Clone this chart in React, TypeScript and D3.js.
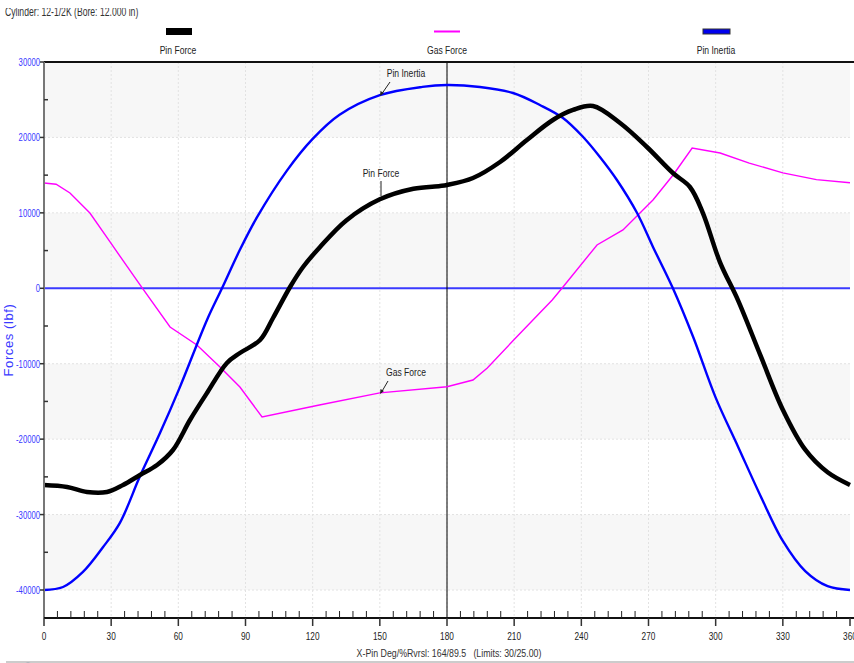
import { useMemo } from "react";
import { curveCatmullRom, curveLinear, line, range, scaleLinear } from "d3";

const WIDTH = 854;
const HEIGHT = 663;

const yTicks = [30000, 20000, 10000, 0, -10000, -20000, -30000, -40000];
const xTicks = [0, 30, 60, 90, 120, 150, 180, 210, 240, 270, 300, 330, 360];
const cursorDeg = 180;

const inertiaDeg = [0, 8.5, 17.4, 26.4, 33.9, 42.9, 51.8, 60.7, 72.8, 79.5, 87.5, 95.1, 108.5, 120, 132, 150, 169, 180, 194.7, 209.5, 221.5, 231.8, 240.8, 248.3, 255.9, 264.9, 272, 280.9, 290, 300, 310, 320, 330, 340, 350, 360];
const inertiaLbf = [-40000, -39600, -37600, -34300, -31100, -24900, -19200, -13100, -4200, 0, 5100, 9400, 15600, 19800, 23000, 25600, 26700, 26950, 26690, 25890, 24300, 22580, 20060, 17410, 14360, 9980, 5480, 0, -6500, -14500, -21000, -27500, -33500, -37500, -39500, -40000];

const pinDeg = [0, 10.3, 19.2, 28.1, 35.3, 42.9, 50.5, 57.6, 65.2, 72.8, 81.7, 87.5, 96.5, 102.3, 109.9, 115.7, 123.3, 135, 150, 165, 176.9, 180, 191.6, 203.7, 215.7, 227.3, 236.3, 245.2, 257.3, 269.3, 280.9, 288.5, 294.3, 301.9, 310, 320, 330, 340, 350, 360];
const pinLbf = [-26080, -26340, -27000, -27000, -26080, -24750, -23430, -21440, -17460, -13880, -9900, -8580, -6860, -3940, 170, 2820, 5480, 9000, 11800, 13200, 13560, 13700, 14620, 16740, 19660, 22310, 23640, 24170, 21910, 18730, 15280, 13430, 9980, 3480, -1600, -8900, -16100, -21400, -24400, -26080];

const gasDeg = [0, 5.4, 11.6, 20.5, 29.5, 42.9, 56.3, 68.3, 78.6, 87.5, 97.4, 123, 150, 180, 191.6, 198, 210, 220, 227, 231.8, 247, 258.6, 272, 281, 289.5, 302, 315, 330, 345, 360];
const gasLbf = [13960, 13800, 12630, 9980, 6140, 440, -5130, -7520, -10430, -13090, -17060, -15470, -13870, -13050, -12160, -10560, -6800, -3700, -1550, 170, 5740, 7730, 11710, 15020, 18600, 17940, 16600, 15300, 14400, 14000];

const legendItems = ["Pin Force", "Gas Force", "Pin Inertia"];

const FONT = "'Liberation Sans', Arial, sans-serif";

function Txt({ x, y, children, size = 11, sx = 0.75, anchor = "middle", fill = "#222" }: any) {
  return (
    <text transform={`translate(${x},${y}) scale(${sx},1)`} textAnchor={anchor} fontSize={size} fontFamily={FONT} fill={fill}>
      {children}
    </text>
  );
}

export default function App() {
  const x = useMemo(() => scaleLinear().domain([0, 360]).range([44, 850]), []);
  const y = useMemo(() => scaleLinear().domain([-40000, 30000]).range([590, 62]), []);
  const path = (degs: number[], vals: number[], curve: any) =>
    line<number>().curve(curve).x((_, i) => x(degs[i])).y((v) => y(v))(vals) ?? "";

  const left = x(0);
  const right = x(360);
  const top = 62;
  const axisY = 618;
  const bands = [30000, 10000, -10000, -30000];
  const minorX = range(0, 361, 6).filter((d) => d % 30 !== 0);
  const minorY = range(-35000, 30000, 10000);

  return (
    <svg width={WIDTH} height={HEIGHT} style={{ position: "absolute", left: 0, top: 0, background: "#fff" }}>
      <defs>
        <clipPath id="titleClip">
          <rect x={0} y={8} width={300} height={14} />
        </clipPath>
      </defs>

      {/* title, cut at the top like the screenshot */}
      <g clipPath="url(#titleClip)">
        <Txt x={5} y={16} size={12} sx={0.72} anchor="start" fill="#333">Cylinder: 12-1/2K (Bore: 12.000 in)</Txt>
      </g>

      {/* legend */}
      {legendItems.map((name, i) => {
        const cx = [178, 447, 716][i];
        return (
          <g key={name}>
            {i === 0 && <rect x={cx - 12} y={28} width={26} height={7} fill="#000" />}
            {i === 1 && <line x1={cx - 13} x2={cx + 13} y1={31.5} y2={31.5} stroke="#ff00ff" strokeWidth={2} />}
            {i === 2 && <rect x={cx - 13} y={29} width={27} height={5} fill="#0000ee" stroke="#333" strokeWidth={1} />}
            <Txt x={cx} y={54} size={11} sx={0.78}>{name}</Txt>
          </g>
        );
      })}

      {/* background bands */}
      {bands.map((b) => (
        <rect key={b} x={left} y={y(b)} width={right - left} height={y(b - 10000) - y(b)} fill="#f7f7f7" />
      ))}

      {/* grid */}
      {xTicks.slice(1, -1).map((d) => (
        <line key={d} x1={x(d)} x2={x(d)} y1={top} y2={axisY} stroke="#e2e2e2" strokeDasharray="2,2" />
      ))}
      {yTicks.slice(1).map((v) => (
        <line key={v} x1={left} x2={right} y1={y(v)} y2={y(v)} stroke="#e2e2e2" strokeDasharray="2,2" />
      ))}

      {/* zero line */}
      <line x1={left} x2={right} y1={y(0)} y2={y(0)} stroke="#3b3bff" strokeWidth={2} />

      {/* cursor */}
      <line x1={x(cursorDeg)} x2={x(cursorDeg)} y1={top} y2={axisY} stroke="#000" strokeWidth={1} />

      {/* series */}
      <path d={path(gasDeg, gasLbf, curveLinear)} fill="none" stroke="#ff00ff" strokeWidth={1.4} />
      <path d={path(inertiaDeg, inertiaLbf, curveCatmullRom.alpha(0.5))} fill="none" stroke="#0000ff" strokeWidth={2.4} />
      <path d={path(pinDeg, pinLbf, curveCatmullRom.alpha(0.5))} fill="none" stroke="#000" strokeWidth={4.5} strokeLinejoin="round" />

      {/* annotations */}
      <Txt x={406} y={77} size={11} sx={0.78}>Pin Inertia</Txt>
      <line x1={390} y1={82} x2={381} y2={95} stroke="#222" />
      <path d="M380,96 L380.5,91 L384,93 Z" fill="#222" />
      <Txt x={381} y={177} size={11} sx={0.78}>Pin Force</Txt>
      <line x1={381} y1={181} x2={381} y2={196} stroke="#222" />
      <Txt x={406} y={376} size={11} sx={0.78}>Gas Force</Txt>
      <line x1={388} y1={381} x2={381} y2={393} stroke="#222" />
      <path d="M380,394 L380.5,389 L384,391 Z" fill="#222" />

      {/* frame */}
      <line x1={left} x2={WIDTH} y1={top} y2={top} stroke="#111" strokeWidth={2} />
      <line x1={left} x2={left} y1={top} y2={axisY} stroke="#777" strokeWidth={2} />
      <line x1={left} x2={WIDTH} y1={axisY} y2={axisY} stroke="#111" strokeWidth={2} />

      {/* y axis */}
      {yTicks.map((v) => (
        <g key={v}>
          <line x1={left - 4} x2={left} y1={y(v)} y2={y(v)} stroke="#333" strokeWidth={1.5} />
          <Txt x={40} y={y(v) + 4} size={11} sx={0.7} anchor="end" fill="#3a3aff">{v}</Txt>
        </g>
      ))}
      {minorY.map((v) => (
        <line key={v} x1={left} x2={left + 4} y1={y(v)} y2={y(v)} stroke="#333" strokeWidth={1.5} />
      ))}
      <text transform={`translate(13,${340}) rotate(-90)`} textAnchor="middle" fontSize={13} letterSpacing={0.6} fontFamily={FONT} fill="#3a3aff">
        Forces (lbf)
      </text>

      {/* x axis */}
      {minorX.map((d) => (
        <line key={d} x1={x(d)} x2={x(d)} y1={axisY - 7} y2={axisY} stroke="#222" strokeWidth={1} />
      ))}
      {xTicks.map((d) => (
        <g key={d}>
          <line x1={x(d)} x2={x(d)} y1={axisY} y2={axisY + 8} stroke="#333" strokeWidth={1.5} />
          <Txt x={x(d)} y={640} size={11} sx={0.75}>{d}</Txt>
        </g>
      ))}
      <Txt x={449} y={657} size={11} sx={0.8} fill="#333">X-Pin Deg/%Rvrsl: 164/89.5{"\u00a0\u00a0\u00a0"}(Limits: 30/25.00)</Txt>

      {/* status strip at bottom */}
      <line x1={6} x2={WIDTH} y1={662} y2={662} stroke="#999" strokeWidth={1} />
      <circle cx={28} cy={676} r={13} fill="#dfe6ee" stroke="#8a9aaa" />
    </svg>
  );
}
